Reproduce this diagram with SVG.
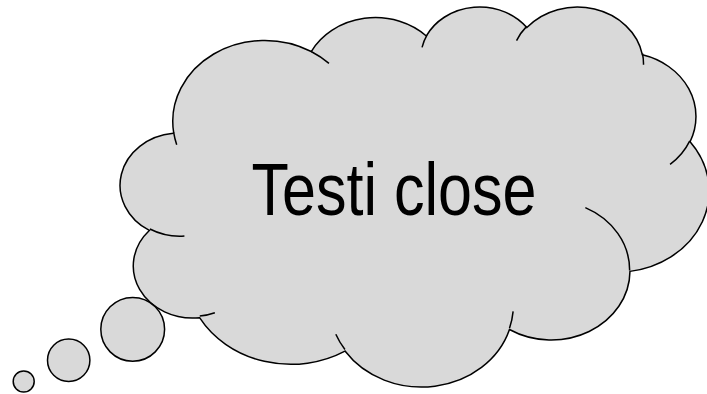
<svg xmlns="http://www.w3.org/2000/svg" width="707" height="394" viewBox="0 0 707 394">
  <style>
    .shape { fill: #d9d9d9; stroke: #000; stroke-width: 1.5; }
    .hook { fill: none; stroke: #000; stroke-width: 1.5; stroke-linecap: butt; }
    .label { font-family: "Liberation Sans", Arial, sans-serif; font-size: 74px; fill: #000; }
  </style>
  <rect width="707" height="394" fill="#ffffff"/>
  <g id="cloud">
    <g transform="translate(120.5,5.8) scale(0.01362,0.008794)">
      <path class="shape" vector-effect="non-scaling-stroke" d="M 3900 14370 A 6753 9190 0 0 1 14006 5201 A 5333 7267 0 0 1 22457 3431 A 4365 5945 0 0 1 29834 2479 A 4857 6595 0 0 1 38320 5572 A 5333 7273 0 0 1 41820 15456 A 6775 9220 0 0 1 37406 30199 A 5785 7867 0 0 1 28557 36809 A 6752 9215 0 0 1 16483 39262 A 7720 10543 0 0 1 5806 35467 A 4360 5918 0 0 1 2116 25544 A 4345 5945 0 0 1 3866 14500 Z"/>
      <path class="hook" vector-effect="non-scaling-stroke" d="M 4693 26177 A 4345 5945 0 0 1 2159 25380 M 6928 34899 A 4360 5918 0 0 1 5819 35281 M 16478 39090 A 6752 9215 0 0 1 15809 37347 M 28827 34751 A 6752 9215 0 0 1 28560 36661 M 34129 22954 A 5785 7867 0 0 1 37379 30089 M 41798 15354 A 5333 7273 0 0 1 40350 18031 M 38324 5426 A 4857 6595 0 0 1 38400 6691 M 29078 3952 A 4857 6595 0 0 1 29819 2341 M 22141 4720 A 4365 5945 0 0 1 22500 3332 M 14000 5192 A 6753 9190 0 0 1 15306 6550 M 4127 15789 A 6753 9190 0 0 1 3900 14371"/>
    </g>
    <text class="label" x="251.5" y="215" textLength="285" lengthAdjust="spacingAndGlyphs">Testi close</text>
  </g>
  <g id="tail">
    <circle class="shape" cx="132.7" cy="329.3" r="31.9"/>
    <circle class="shape" cx="68.7" cy="360.3" r="21.2"/>
    <circle class="shape" cx="23.7" cy="381.5" r="10.5"/>
  </g>
</svg>
